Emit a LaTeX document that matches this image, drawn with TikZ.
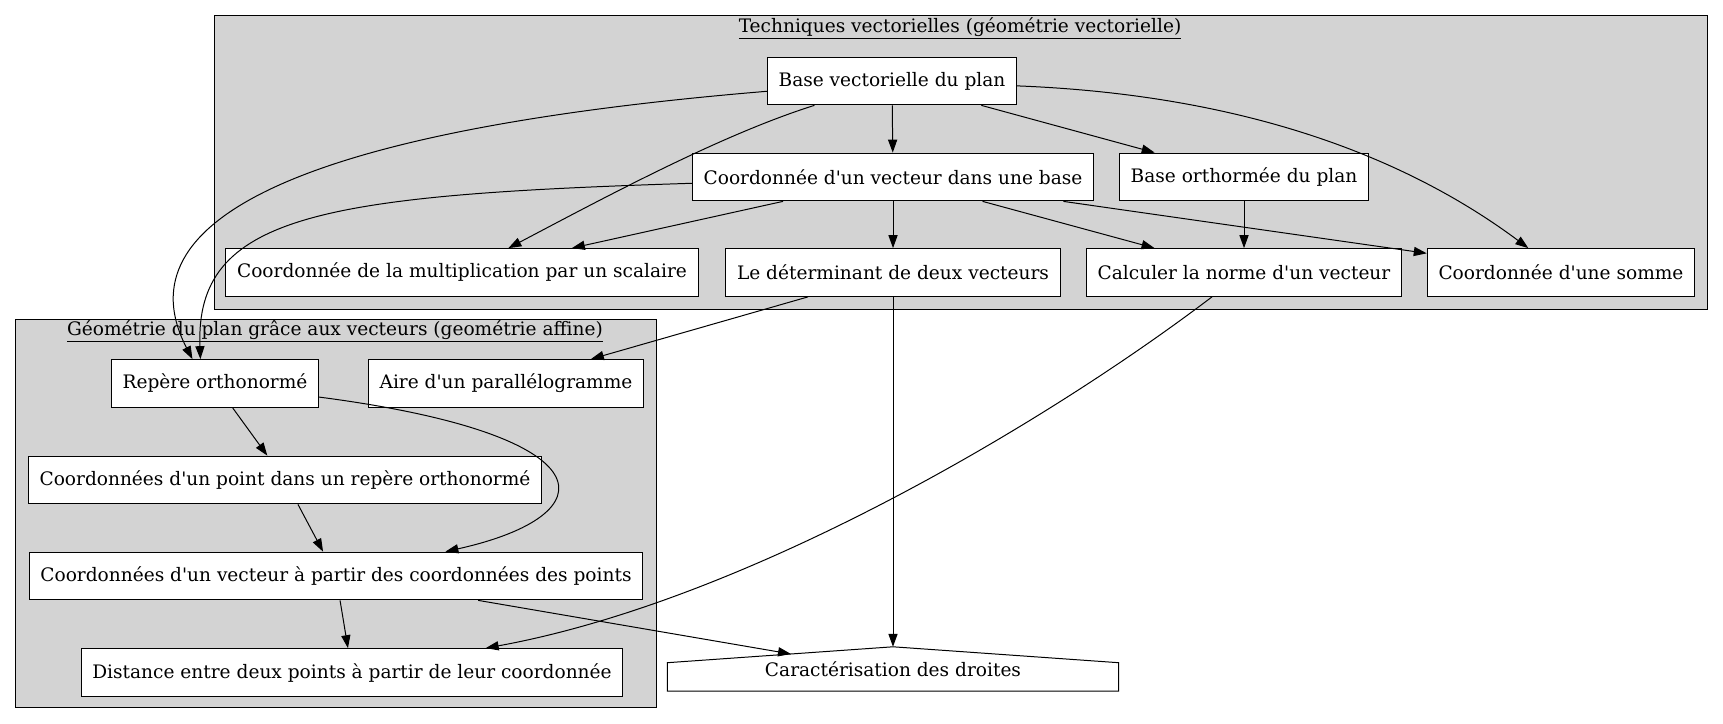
\documentclass[tikz,border=0pt]{standalone}
\usepackage{fontspec}
\setmainfont[Ligatures=TeXOff]{DejaVu Serif}
\usepackage{xcolor}
\usepackage{tikz}
\usetikzlibrary{arrows.meta,positioning}

\definecolor{clustergray}{HTML}{D3D3D3}

\begin{document}
\begin{tikzpicture}[
    x=0.0265cm, y=-0.0265cm,
    font=\fontsize{14}{17}\selectfont,
    concept/.style={draw, fill=white, line width=0.75pt, minimum height=36pt, inner xsep=8.5pt},
    cluster/.style={draw, fill=clustergray, line width=0.75pt},
    clustertitle/.style={inner sep=0pt},
    house/.style={minimum width=340pt, minimum height=33.1pt, inner sep=0pt, text height=15pt, text depth=3.6pt},
    edge/.style={-{Triangle[length=9.8pt,width=6.9pt]}, line width=0.75pt},
]
\useasboundingbox (0,0) rectangle (1723,723);

% clusters
\draw[cluster] (214,15) rectangle (1707,309);
\node[clustertitle] (techtitle) at (960,28) {\underline{Techniques vectorielles (géométrie vectorielle)}};
\draw[cluster] (15,319) rectangle (656,707);
\node[clustertitle] (geotitle) at (335,331) {\underline{Géométrie du plan grâce aux vecteurs (geométrie affine)}};

% techniques vectorielles
\node[concept] (base)      at (892,81)    {Base vectorielle du plan};
\node[concept] (coordbase) at (893,177)   {Coordonnée d'un vecteur dans une base};
\node[concept] (baseortho) at (1244,177)  {Base orthormée du plan};
\node[concept] (mult)      at (462,272.5) {Coordonnée de la multiplication par un scalaire};
\node[concept] (det)       at (893,272.5) {Le déterminant de deux vecteurs};
\node[concept] (norme)     at (1244,272.5) {Calculer la norme d'un vecteur};
\node[concept] (somme)     at (1561,272.5) {Coordonnée d'une somme};

% geometrie affine
\node[concept] (repere)   at (215,383.5) {Repère orthonormé};
\node[concept] (aire)     at (506,383.5) {Aire d'un parallélogramme};
\node[concept] (coordpt)  at (285,480)   {Coordonnées d'un point dans un repère orthonormé};
\node[concept] (coordvec) at (336,576)   {Coordonnées d'un vecteur à partir des coordonnées des points};
\node[concept] (dist)     at (352,672.5) {Distance entre deux points à partir de leur coordonnée};

% droites (house)
\node[house] (droites) at (893,669) {Caractérisation des droites};
\draw[line width=0.75pt] (droites.south west) -- ([yshift=-12pt]droites.north west) -- (droites.north)
    -- ([yshift=-12pt]droites.north east) -- (droites.south east) -- cycle;
\coordinate (droitesroof) at (791,654);

\draw[edge] (base) -- (coordbase);
\draw[edge] (base) -- (baseortho);
\draw[edge] (base) .. controls (720,135) and (600,200) .. (mult);
\draw[edge] (base) .. controls (1250,95) and (1410,160) .. (somme);
\draw[edge] (base) .. controls (300,130) and (120,220) .. ([xshift=-17pt]repere.north);
\draw[edge] (coordbase) .. controls (320,195) and (195,215) .. ([xshift=-11pt]repere.north);
\draw[edge] (coordbase) -- (mult);
\draw[edge] (coordbase) -- (det);
\draw[edge] (coordbase) -- (norme);
\draw[edge] (coordbase) -- (somme);
\draw[edge] (baseortho) -- (norme);
\draw[edge] (det) -- (aire);
\draw[edge] (det) -- (droites);
\draw[edge] (norme) .. controls (1050,420) and (750,600) .. (dist);
\draw[edge] (repere) -- (coordpt);
\draw[edge] (repere) .. controls (610,435) and (610,515) .. (coordvec);
\draw[edge] (coordpt) -- (coordvec);
\draw[edge] (coordvec) -- (dist);
\draw[edge] (coordvec) -- (droitesroof);
\end{tikzpicture}
\end{document}
